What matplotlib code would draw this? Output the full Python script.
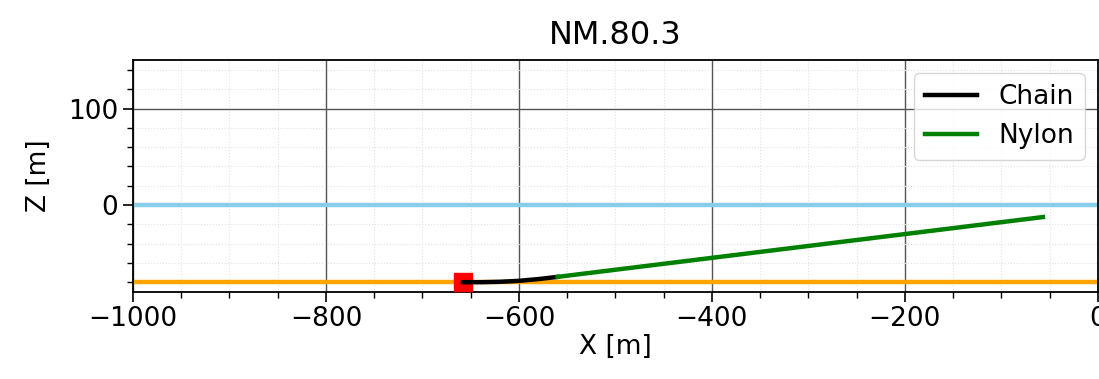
import numpy as np
import matplotlib.pyplot as plt
from matplotlib.ticker import MultipleLocator

# Datos
titulo = 'NM.80.3'
profundidad = -80.0
superficie = 0.0
ancla = (-658, -80)

chain_x = [-658, -640, -620, -600, -580, -560]
chain_z = [-80.0, -80.0, -79.6, -78.6, -76.8, -74.5]

nylon_x = [-560, -57]
nylon_z = [-74.5, -12.5]

xlim = (-1000, 0)
ylim = (-90, 150)

fig = plt.figure(figsize=(10.99, 3.79), dpi=100)
ax = fig.add_axes([0.121, 0.229, 0.878, 0.613])

# Superficie y fondo marino
ax.axhline(superficie, color='skyblue', lw=3.2, zorder=2)
ax.axhline(profundidad, color='orange', lw=3.2, zorder=2)

# Lineas de fondeo
ax.plot(chain_x, chain_z, color='black', lw=3.2, label='Chain', zorder=4)
ax.plot(nylon_x, nylon_z, color='green', lw=3.2, label='Nylon', zorder=4)

# Ancla
ax.plot(ancla[0], ancla[1], 's', color='red', markersize=13, zorder=3)

ax.set_xlim(*xlim)
ax.set_ylim(*ylim)
ax.set_aspect('equal')

ax.xaxis.set_major_locator(MultipleLocator(200))
ax.xaxis.set_minor_locator(MultipleLocator(50))
ax.yaxis.set_major_locator(MultipleLocator(100))
ax.yaxis.set_minor_locator(MultipleLocator(20))

ax.grid(which='major', color='#555555', lw=1.0)
ax.grid(which='minor', color='#e2e2e2', lw=0.8, ls=':')
ax.set_axisbelow(True)

ax.tick_params(which='major', length=7, width=1.2, labelsize=19)
ax.tick_params(which='minor', length=4, width=1.0)
for s in ax.spines.values():
    s.set_linewidth(1.3)

ax.set_xlabel('X [m]', fontsize=19, labelpad=1)
ax.set_ylabel('Z [m]', fontsize=19, labelpad=12)
ax.set_title(titulo, fontsize=23, pad=12)

ax.legend(loc='upper right', fontsize=19, handlelength=2.0)

fig.savefig('out.png', dpi=100)
